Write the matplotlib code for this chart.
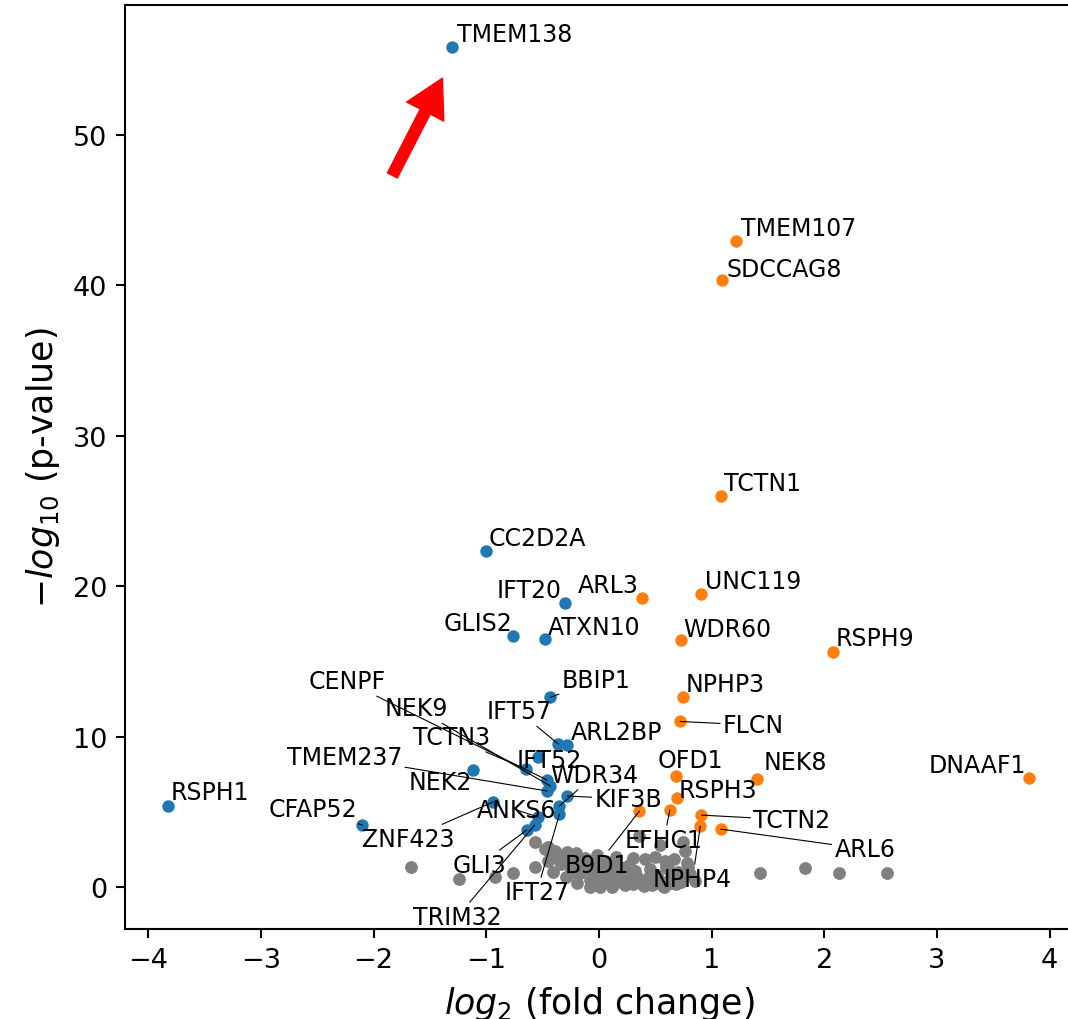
import matplotlib
matplotlib.use("Agg")
import matplotlib.pyplot as plt
from matplotlib.transforms import offset_copy

# genes below the threshold (grey)
ns_x = [-1.67, -1.24, -0.92, -0.76, -0.57, -0.57, -0.45, -0.41, 0.36, 0.54, 0.75, 0.76,
        1.43, 1.83, 2.13, 2.56,
        -0.48, -0.39, -0.30, -0.21, -0.12, -0.34, -0.25, -0.17, -0.08, 0.01,
        -0.08, 0.01, 0.10, 0.19, 0.27, 0.36, 0.45, 0.54, 0.63, 0.72, 0.81,
        0.10, 0.19, 0.27, 0.41, 0.50, 0.59, 0.67, 0.45, 0.32, 0.01, 0.12, 0.23,
        -0.08, -0.19, -0.29, -0.36, -0.45, 0.05, -0.02, 0.15, 0.62, 0.68, 0.58,
        0.40, -0.15, 0.30, 0.79, 0.85,
        -0.40, -0.33, -0.27, -0.22, -0.12, -0.05, 0.06, 0.14, 0.22, 0.30, 0.38,
        0.47, 0.56, 0.64, 0.73, -0.28, -0.20, -0.10, 0.00, 0.20, 0.34, 0.52,
        0.60, 0.70, 0.78, -0.24, -0.01, 0.08, 0.26, 0.44]
ns_y = [1.33, 0.53, 0.66, 0.93, 1.33, 2.99, 2.66, 1.00, 3.39, 2.79, 3.00, 2.39,
        0.93, 1.26, 0.93, 0.93,
        2.50, 2.40, 2.20, 2.00, 1.90, 1.50, 1.20, 0.90, 0.50, 0.20,
        1.20, 1.05, 0.85, 0.65, 0.55, 0.40, 0.35, 0.40, 0.55, 0.65, 0.85,
        1.50, 1.30, 1.45, 1.85, 2.00, 1.70, 1.85, 1.20, 1.05, 0.00, 0.00, 0.13,
        0.00, 0.27, 0.66, 1.85, 1.70, 1.70, 2.10, 2.00, 1.10, 0.20, 0.00,
        0.10, 1.50, 1.90, 1.30, 0.40,
        2.10, 1.90, 1.70, 1.45, 1.25, 0.85, 0.55, 0.30, 0.25, 0.20, 0.20,
        0.15, 0.15, 0.30, 0.35, 2.30, 2.25, 1.60, 0.70, 0.90, 0.70, 0.80,
        1.35, 1.00, 1.60, 1.00, 1.40, 1.25, 1.20, 0.60]

# depleted genes (blue)
down_genes = ["TMEM138", "CC2D2A", "IFT20", "GLIS2", "ATXN10", "BBIP1", "IFT57", "ARL2BP",
              "IFT52", "TCTN3", "NEK2", "CENPF", "NEK9", "TMEM237", "WDR34", "KIF3B",
              "ZNF423", "IFT27", "ANKS6", "GLI3", "TRIM32", "RSPH1", "CFAP52"]
down_x = [-1.30, -1.00, -0.30, -0.76, -0.48, -0.43, -0.36, -0.28,
          -0.54, -0.65, -1.12, -0.46, -0.43, -0.46, -0.35, -0.28,
          -0.94, -0.35, -0.54, -0.64, -0.57, -3.82, -2.10]
down_y = [55.8, 22.3, 18.9, 16.7, 16.5, 12.6, 9.50, 9.43,
          8.64, 7.84, 7.77, 7.11, 6.71, 6.38, 5.38, 6.05,
          5.65, 4.85, 4.65, 3.79, 4.12, 5.38, 4.12]
down_tx = [-1.26, -0.98, -0.91, -1.38, -0.45, -0.33, -1.00, -0.25,
           -0.73, -1.65, -1.69, -2.58, -1.90, -2.77, -0.43, -0.04,
           -2.10, -0.84, -1.08, -1.30, -1.65, -3.80, -2.93]
down_ty = [56.2, 22.7, 19.3, 17.1, 16.8, 13.3, 11.2, 9.83,
           7.97, 9.50, 6.51, 13.2, 11.4, 8.17, 6.98, 5.38,
           2.72, -0.80, 4.65, 1.00, -2.46, 5.85, 4.72]
down_leader = [False, False, False, False, False, True, True, False,
               False, True, False, True, True, True, True, True,
               True, True, True, True, True, False, True]

# enriched genes (orange)
up_genes = ["TMEM107", "SDCCAG8", "TCTN1", "UNC119", "ARL3", "WDR60", "RSPH9", "NPHP3",
            "FLCN", "DNAAF1", "OFD1", "NEK8", "RSPH3", "EFHC1", "B9D1", "TCTN2",
            "NPHP4", "ARL6"]
up_x = [1.22, 1.09, 1.08, 0.91, 0.38, 0.73, 2.08, 0.75,
        0.72, 3.82, 0.68, 1.40, 0.69, 0.63, 0.36, 0.91,
        0.90, 1.08]
up_y = [42.9, 40.3, 26.0, 19.5, 19.2, 16.4, 15.6, 12.6,
        11.0, 7.24, 7.38, 7.18, 5.91, 5.12, 5.05, 4.78,
        4.05, 3.85]
up_tx = [1.26, 1.13, 1.11, 0.94, -0.19, 0.75, 2.10, 0.77,
         1.10, 2.93, 0.52, 1.46, 0.71, 0.23, -0.30, 1.37,
         0.48, 2.09]
up_ty = [43.3, 40.6, 26.4, 19.9, 19.6, 16.7, 16.1, 13.0,
         10.3, 7.64, 7.97, 7.84, 5.98, 2.66, 1.00, 3.99,
         0.07, 2.06]
up_leader = [False, False, False, False, False, False, False, False,
             True, False, False, False, False, True, True, True,
             True, True]

fig = plt.figure(figsize=(10.68, 10.2), dpi=100)
ax = fig.add_axes([0.1174, 0.0882, 0.8867, 0.9057])

ax.scatter(ns_x, ns_y, s=85, color="grey", linewidths=0)
ax.scatter(down_x, down_y, s=80, color="tab:blue", linewidths=0)
ax.scatter(up_x, up_y, s=80, color="tab:orange", linewidths=0)

line_props = dict(arrowstyle="-", color="k", lw=0.8, shrinkA=0, shrinkB=0)
for names, xs, ys, txs, tys, leads in [
        (down_genes, down_x, down_y, down_tx, down_ty, down_leader),
        (up_genes, up_x, up_y, up_tx, up_ty, up_leader)]:
    for name, x, y, tx, ty, lead in zip(names, xs, ys, txs, tys, leads):
        ax.annotate(name, xy=(x, y), xytext=(tx, ty), fontsize=17,
                    arrowprops=line_props if lead else None)

# red arrow pointing at TMEM138
tip = offset_copy(ax.transData, fig=fig, x=-7.2, y=-22.3, units="points")
ax.annotate("", xy=(down_x[0], down_y[0]), xycoords=tip,
            xytext=(-36, -70), textcoords="offset points",
            arrowprops=dict(arrowstyle="simple,head_length=27,head_width=30,tail_width=8",
                            mutation_scale=1, color="red", shrinkA=0, shrinkB=0))

ax.set_xticks([-4, -3, -2, -1, 0, 1, 2, 3, 4])
ax.set_yticks([0, 10, 20, 30, 40, 50])
ax.tick_params(labelsize=19.5, length=6.5, width=1.5, pad=6.5)
for sp in ax.spines.values():
    sp.set_linewidth(1.5)
ax.set_xlabel(r"$log_2$ (fold change)", fontsize=25, labelpad=8)
ax.set_ylabel(r"$-log_{10}$ (p-value)", fontsize=25, labelpad=8)

fig.savefig("out.png", dpi=100)
